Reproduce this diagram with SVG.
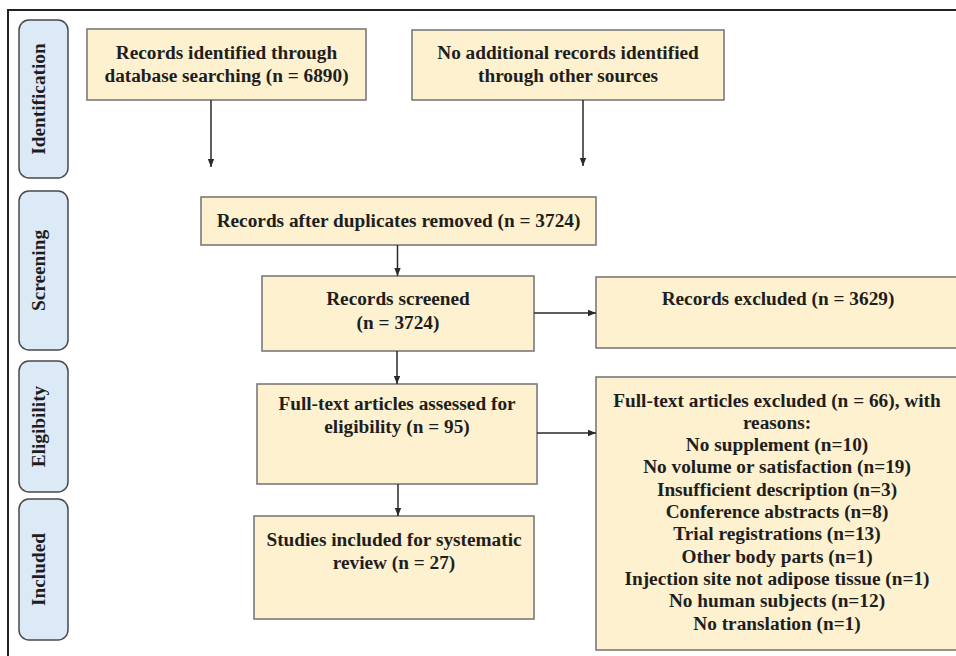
<svg xmlns="http://www.w3.org/2000/svg" width="956" height="656" viewBox="0 0 956 656">
  <style>
    .frame { fill: none; stroke: #222; stroke-width: 2; }
    .lane { fill: #dce9f7; stroke: #4a4a4a; stroke-width: 1.5; }
    .box { fill: #fdf1cf; stroke: #7a7a7a; stroke-width: 1.6; }
    text { font-family: "Liberation Serif", "Times New Roman", serif; font-weight: bold; font-size: 19.3px; fill: #1e1e1e; text-anchor: middle; }
    .conn line { stroke: #2a2a2a; stroke-width: 1.5; marker-end: url(#ah); }
  </style>
  <defs>
    <marker id="ah" viewBox="0 0 10 10" refX="10" refY="5" markerWidth="8" markerHeight="8" markerUnits="userSpaceOnUse" orient="auto">
      <path d="M0,1 L10,5 L0,9 Z" fill="#2a2a2a"/>
    </marker>
  </defs>
  <rect x="0" y="0" width="956" height="656" fill="#ffffff"/>
  <rect class="frame" x="8" y="10" width="1000" height="700"/>

  <g id="lane-identification">
    <rect class="lane" x="19" y="20" width="49" height="158" rx="10"/>
    <text transform="translate(45,99) rotate(-90)">Identification</text>
  </g>
  <g id="lane-screening">
    <rect class="lane" x="19" y="191" width="49" height="159" rx="10"/>
    <text transform="translate(45,270.5) rotate(-90)">Screening</text>
  </g>
  <g id="lane-eligibility">
    <rect class="lane" x="19" y="361" width="49" height="131" rx="10"/>
    <text transform="translate(45,426.5) rotate(-90)">Eligibility</text>
  </g>
  <g id="lane-included">
    <rect class="lane" x="19" y="499" width="49" height="141" rx="10"/>
    <text transform="translate(45,569.5) rotate(-90)">Included</text>
  </g>

  <g id="records-identified">
    <rect class="box" x="87" y="29" width="279" height="71"/>
    <text x="226.5" y="58.5">Records identified through</text>
    <text x="226.5" y="81.5">database searching (n = 6890)</text>
  </g>
  <g id="no-additional">
    <rect class="box" x="412" y="30" width="312" height="70"/>
    <text x="568" y="58.5">No additional records identified</text>
    <text x="568" y="81.5">through other sources</text>
  </g>
  <g id="after-duplicates">
    <rect class="box" x="201" y="197" width="395" height="48"/>
    <text x="398.5" y="227">Records after duplicates removed (n = 3724)</text>
  </g>
  <g id="records-screened">
    <rect class="box" x="262" y="276" width="272" height="75"/>
    <text x="398" y="305">Records screened</text>
    <text x="398" y="329">(n = 3724)</text>
  </g>
  <g id="records-excluded">
    <rect class="box" x="596" y="277" width="364" height="71"/>
    <text x="778" y="305">Records excluded (n = 3629)</text>
  </g>
  <g id="fulltext-assessed">
    <rect class="box" x="257" y="384" width="280" height="100"/>
    <text x="397" y="409.5">Full-text articles assessed for</text>
    <text x="397" y="432.5">eligibility (n = 95)</text>
  </g>
  <g id="fulltext-excluded">
    <rect class="box" x="596" y="377" width="364" height="273"/>
    <text x="777" y="406.5">Full-text articles excluded (n = 66), with</text>
    <text x="777" y="428.8">reasons:</text>
    <text x="777" y="451.1">No supplement (n=10)</text>
    <text x="777" y="473.4">No volume or satisfaction (n=19)</text>
    <text x="777" y="495.7">Insufficient description (n=3)</text>
    <text x="777" y="518">Conference abstracts (n=8)</text>
    <text x="777" y="540.3">Trial registrations (n=13)</text>
    <text x="777" y="562.6">Other body parts (n=1)</text>
    <text x="777" y="584.9">Injection site not adipose tissue (n=1)</text>
    <text x="777" y="607.2">No human subjects (n=12)</text>
    <text x="777" y="629.5">No translation (n=1)</text>
  </g>
  <g id="studies-included">
    <rect class="box" x="254" y="516" width="280" height="103"/>
    <text x="394" y="545.5">Studies included for systematic</text>
    <text x="394" y="568.5">review (n = 27)</text>
  </g>

  <g id="connectors" class="conn">
    <line x1="211" y1="100" x2="211" y2="167"/>
    <line x1="583" y1="100" x2="583" y2="166"/>
    <line x1="397.5" y1="245" x2="397.5" y2="276"/>
    <line x1="397" y1="351" x2="397" y2="384"/>
    <line x1="398" y1="484" x2="398" y2="516"/>
    <line x1="534" y1="313" x2="596" y2="313"/>
    <line x1="537" y1="433" x2="596" y2="433"/>
  </g>
</svg>
